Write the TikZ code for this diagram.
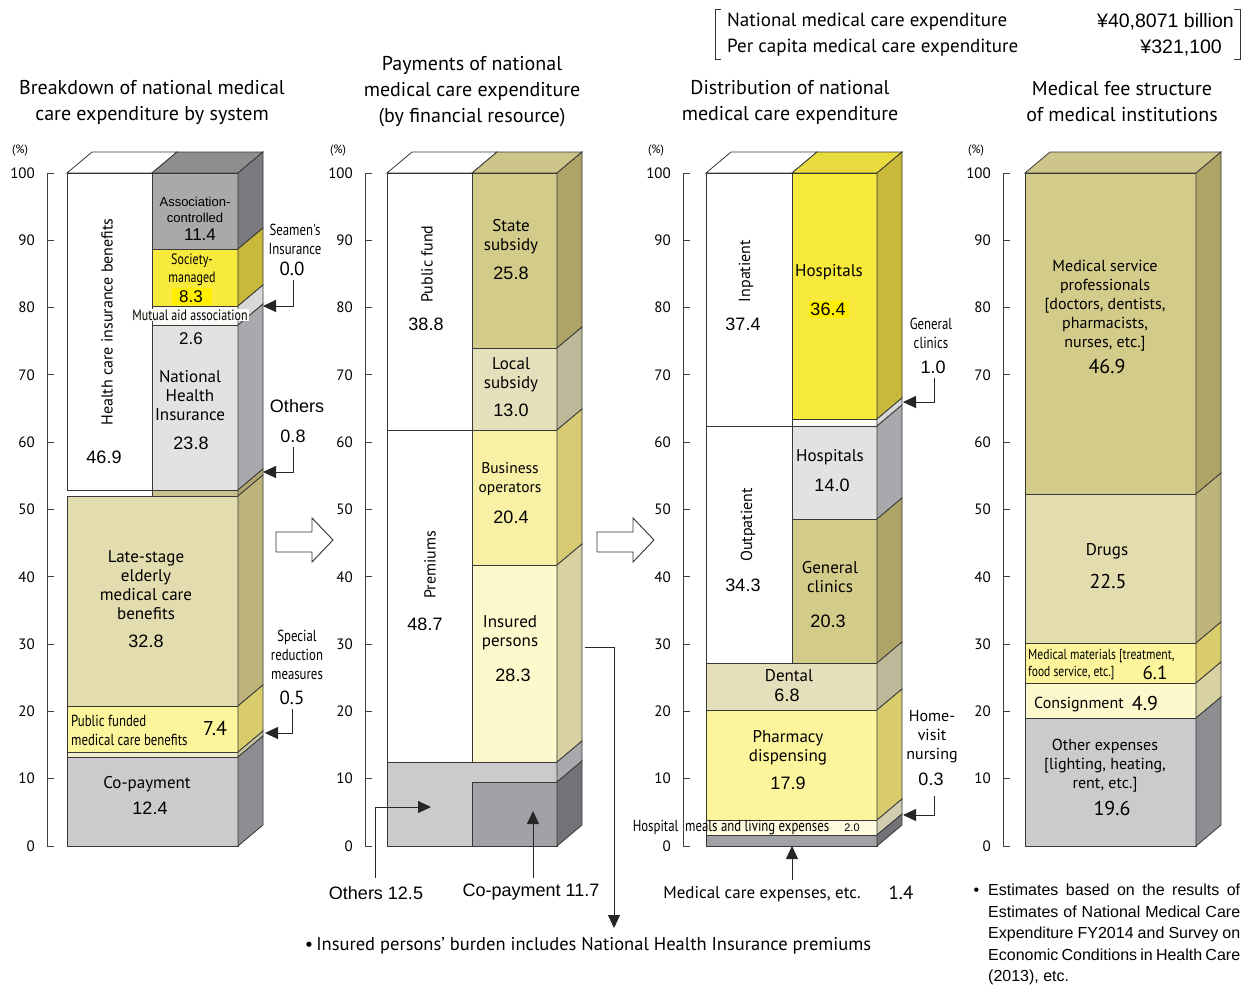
\documentclass[tikz,border=0pt]{standalone}
\usepackage{fontspec}
\setmainfont{PT Sans}
\newfontfamily\arl{Liberation Sans}
\newfontfamily\nrw[FakeStretch=0.8]{PT Sans}
\usetikzlibrary{arrows.meta}

% colours of the bar segments (front / side)
\definecolor{gA}{HTML}{A9A9AB}\definecolor{gAs}{HTML}{7B7B7F}
\definecolor{yB}{HTML}{F7EA3C}\definecolor{yBs}{HTML}{C8B93A}
\definecolor{wW}{HTML}{FBFBF8}\definecolor{wWs}{HTML}{D8D8D8}
\definecolor{gL}{HTML}{E3E2E2}\definecolor{gLs}{HTML}{A9A9AD}
\definecolor{tO}{HTML}{C9C28C}\definecolor{tOs}{HTML}{B0A870}
\definecolor{bE}{HTML}{E2DCAE}\definecolor{bEs}{HTML}{BDB47C}
\definecolor{yP}{HTML}{FDF59C}\definecolor{yPs}{HTML}{D9CC6C}
\definecolor{cS}{HTML}{F0ECCC}\definecolor{cSs}{HTML}{C8C4A0}
\definecolor{gC}{HTML}{CBCBCD}\definecolor{gCs}{HTML}{8E8E92}
\definecolor{oS}{HTML}{D3CB8A}\definecolor{oSs}{HTML}{AEA466}
\definecolor{bL}{HTML}{E5E0BB}\definecolor{bLs}{HTML}{BDB89A}
\definecolor{yO}{HTML}{F8F0A4}\definecolor{yOs}{HTML}{D6CB72}
\definecolor{yI}{HTML}{FDF9CC}\definecolor{yIs}{HTML}{D8D2A2}
\definecolor{gD}{HTML}{A2A2A6}\definecolor{gDs}{HTML}{737377}
\definecolor{yM}{HTML}{FFFBE0}\definecolor{yMs}{HTML}{D0CCB0}
\definecolor{hiY}{HTML}{FFEE00}
\definecolor{topG}{HTML}{8E8E90}
\definecolor{topO}{HTML}{CDC58A}
\definecolor{topY}{HTML}{E9DC3E}

\tikzset{
  edge/.style={draw=black!78, line width=0.8pt},
  lab/.style={inner sep=0pt, align=center, font=\fontsize{17}{19}\selectfont},
  labs/.style={inner sep=0pt, align=center, font=\fontsize{16}{19}\selectfont},
  big/.style={inner sep=0pt, font=\fontsize{20}{22}\selectfont},
  num/.style={inner sep=0pt, font=\arl\fontsize{18}{20}\selectfont},
  nar/.style={inner sep=0pt, align=center, font=\nrw\fontsize{16}{19}\selectfont},
  title/.style={inner sep=0pt, align=center, font=\fontsize{20}{26}\selectfont},
  tick/.style={inner sep=0pt, anchor=east, font=\fontsize{15}{16}\selectfont},
  hilite/.style={fill=hiY, inner sep=0pt, minimum width=40pt, minimum height=17pt},
  callout/.style={draw=black!85, line width=0.9pt, -{Triangle[length=13pt,width=12pt]}},
  bigarrow/.style={draw=black!80, fill=white, line width=0.9pt},
  axisline/.style={draw=black!75, line width=0.9pt},
}

% front face: x1, x2, y1, y2, colour
\newcommand\frontface[5]{\filldraw[fill=#5, edge] (#1,#3) rectangle (#2,#4);}
% side face: front right edge x, y1, y2, colour
\newcommand\sideface[4]{\filldraw[fill=#4, edge] (#1,#2) -- (#1+25,#2-21) -- (#1+25,#3-21) -- (#1,#3) -- cycle;}
% top face: x1, x2, colour
\newcommand\topface[3]{\filldraw[fill=#3, edge] (#1,173) -- (#2,173) -- (#2+25,152) -- (#1+25,152) -- cycle;}
% vertical percentage axis at x
\newcommand\pctaxis[2]{%
  \draw[axisline] (#1,173) -- (#1,846);
  \foreach \v in {0,10,...,100}{
    \draw[axisline] (#1,846-6.73*\v) -- ++(7,0);
    \node[tick] (#2t\v) at (#1-12,846-6.73*\v) {\v};
  }
  \node[inner sep=0pt, font=\fontsize{12}{13}\selectfont] (#2pc) at (#1-27,151) {(\%)};
}

\begin{document}
\begin{tikzpicture}[x=1pt, y=-1pt]
\useasboundingbox (0,0) rectangle (1245,989);
\fill[white] (0,0) rectangle (1245,989);

% ---------- header box ----------
\draw[black!80, line width=0.8pt] (721,9) -- (715,9) -- (715,59) -- (721,59);
\draw[black!80, line width=0.8pt] (1234,9) -- (1240,9) -- (1240,59) -- (1234,59);
\node[inner sep=0pt, anchor=west, font=\fontsize{19}{20}\selectfont] (hd1) at (727,22) {National medical care expenditure};
\node[inner sep=0pt, anchor=west, font=\fontsize{19}{20}\selectfont] (hd2) at (727,48) {Per capita medical care expenditure};
\node[inner sep=0pt, anchor=east, font=\arl\fontsize{19.5}{20}\selectfont] (hv1) at (1234,22) {¥40,8071 billion};
\node[inner sep=0pt, anchor=east, font=\arl\fontsize{19.5}{20}\selectfont] (hv2) at (1222,48) {¥321,100};

% ---------- titles ----------
\node[title] (ti1) at (152,102) {Breakdown of national medical\\care expenditure by system};
\node[title] (ti2) at (472,92) {Payments of national\\medical care expenditure\\(by financial resource)};
\node[title] (ti3) at (790,102) {Distribution of national\\medical care expenditure};
\node[title] (ti4) at (1122,102) {Medical fee structure\\of medical institutions};

% ---------- axes ----------
\pctaxis{47}{a}
\pctaxis{365}{b}
\pctaxis{683}{c}
\pctaxis{1003}{d}

% ---------- bar 1: breakdown by system ----------
\topface{67}{152}{white}
\topface{152}{238}{topG}
\frontface{67}{152}{173}{490}{white}
\frontface{152}{238}{173}{249}{gA}   \sideface{238}{173}{249}{gAs}
\frontface{152}{238}{249}{306}{yB}   \sideface{238}{249}{306}{yBs}
\frontface{152}{238}{306}{325}{wW}   \sideface{238}{306}{325}{wWs}
\frontface{152}{238}{325}{490}{gL}   \sideface{238}{325}{490}{gLs}
\frontface{152}{238}{490}{496}{tO}   \sideface{238}{490}{496}{tOs}
\frontface{67}{238}{496}{706}{bE}    \sideface{238}{496}{706}{bEs}
\frontface{67}{238}{706}{752}{yP}    \sideface{238}{706}{752}{yPs}
\frontface{67}{238}{752}{757}{cS}    \sideface{238}{752}{757}{cSs}
\frontface{67}{238}{757}{846}{gC}    \sideface{238}{757}{846}{gCs}

\node[labs, rotate=90] (hci) at (107,322) {Health care insurance benefits};
\node[num] (n469a) at (104,457) {46.9};
\node[inner sep=0pt, align=center, font=\arl\fontsize{13}{16}\selectfont] (assoc) at (195,210) {Association-\\controlled};
\node[num, font=\arl\fontsize{17}{20}\selectfont] (n114) at (200,235) {11.4};
\node[nar, font=\nrw\fontsize{15}{18}\selectfont] (soc) at (192,270) {Society-\\managed};
\node[hilite] (n83bg) at (192,296) {};
\node[num, font=\arl\fontsize{17}{20}\selectfont] (n83) at (191,297) {8.3};
\node[nar, font=\nrw\fontsize{15}{18}\selectfont, fill=wW, inner sep=1pt] (mut) at (190,315) {Mutual aid association};
\node[num, font=\arl\fontsize{17}{20}\selectfont] (n26) at (191,339) {2.6};
\node[lab] (nhi) at (190,396) {National\\Health\\Insurance};
\node[num] (n238) at (191,443) {23.8};
\node[lab] (late) at (146,585) {Late-stage\\elderly\\medical care\\benefits};
\node[num] (n328) at (146,641) {32.8};
\node[nar, align=left, anchor=west] (pubf) at (71,730) {Public funded\\medical care benefits};
\node[big] (n74) at (215,728) {7.4};
\node[lab] (copay) at (147,784) {Co-payment};
\node[num] (n124) at (150,808) {12.4};

% side labels of bar 1
\node[nar] (sea) at (295,239) {Seamen's\\Insurance};
\node[big, font=\fontsize{19}{22}\selectfont] (n00) at (292,269) {0.0};
\node[num] (oth) at (297,406) {Others};
\node[num] (n08) at (293,436) {0.8};
\node[nar] (spec) at (297,655) {Special\\reduction\\measures};
\node[big, font=\fontsize{19}{22}\selectfont] (n05) at (292,698) {0.5};
\coordinate (tipSea) at (263,306);
\coordinate (tipOth) at (263,472);
\coordinate (tipSpec) at (265,733);
\draw[callout] (n00.south) ++(1,4) |- (tipSea);
\draw[callout] (n08.south) ++(0,4) |- (tipOth);
\draw[callout] (n05.south) ++(0,4) |- (tipSpec);

% big arrow 1 -> 2
\draw[bigarrow] (276,532) -- (312,532) -- (312,518) -- (333,540) -- (312,562) -- (312,552) -- (276,552) -- cycle;

% ---------- bar 2: financial resource ----------
\topface{387}{472}{white}
\topface{472}{557}{topO}
\frontface{387}{472}{173}{430}{white}
\frontface{387}{472}{430}{762}{white}
\frontface{472}{557}{173}{348}{oS}   \sideface{557}{173}{348}{oSs}
\frontface{472}{557}{348}{430}{bL}   \sideface{557}{348}{430}{bLs}
\frontface{472}{557}{430}{565}{yO}   \sideface{557}{430}{565}{yOs}
\frontface{472}{557}{565}{762}{yI}   \sideface{557}{565}{762}{yIs}
\filldraw[fill=gC, edge] (387,762) -- (557,762) -- (557,782) -- (472,782) -- (472,846) -- (387,846) -- cycle;
\sideface{557}{762}{782}{gLs}
\frontface{472}{557}{782}{846}{gD}   \sideface{557}{782}{846}{gDs}

\node[labs, rotate=90] (pubfund) at (427,264) {Public fund};
\node[num] (n388) at (426,324) {38.8};
\node[lab] (state) at (511,237) {State\\subsidy};
\node[num] (n258) at (511,273) {25.8};
\node[lab] (local) at (511,375) {Local\\subsidy};
\node[num] (n130) at (511,410) {13.0};
\node[labs, font=\fontsize{15.5}{19}\selectfont] (busi) at (510,479) {Business\\operators};
\node[num] (n204) at (511,517) {20.4};
\node[labs, rotate=90] (prem) at (430,565) {Premiums};
\node[num] (n487) at (425,624) {48.7};
\node[lab] (insp) at (510,633) {Insured\\persons};
\node[num] (n283) at (513,675) {28.3};

\node[num] (oth125) at (376,893) {Others 12.5};
\node[num] (cop117) at (531,892) {Co-payment 11.7};
\coordinate (othBase) at (375,878);
\coordinate (othTip) at (431,807);
\coordinate (copBase) at (533,878);
\coordinate (copTip) at (533,811);
\draw[callout] (othBase) |- (othTip);
\draw[callout] (copBase) -- (copTip);
\coordinate (insStart) at (585,647);
\coordinate (insTip) at (614,928);
\draw[callout] (insStart) -| (insTip);
\node[inner sep=0pt, font=\fontsize{18.5}{20}\selectfont] (note) at (588,946) {\textbullet\,Insured persons' burden includes National Health Insurance premiums};

% big arrow 2 -> 3
\draw[bigarrow] (597,532) -- (633,532) -- (633,518) -- (654,540) -- (633,562) -- (633,552) -- (597,552) -- cycle;

% ---------- bar 3: distribution ----------
\topface{706}{792}{white}
\topface{792}{877}{topY}
\frontface{706}{792}{173}{426}{white}
\frontface{706}{792}{426}{663}{white}
\frontface{792}{877}{173}{419}{yB}   \sideface{877}{173}{419}{yBs}
\frontface{792}{877}{419}{426}{wW}   \sideface{877}{419}{426}{wWs}
\frontface{792}{877}{426}{519}{gL}   \sideface{877}{426}{519}{gLs}
\frontface{792}{877}{519}{663}{oS}   \sideface{877}{519}{663}{oSs}
\frontface{706}{877}{663}{710}{bL}   \sideface{877}{663}{710}{bLs}
\frontface{706}{877}{710}{820}{yP}   \sideface{877}{710}{820}{yPs}
\frontface{706}{877}{820}{835}{yM}   \sideface{877}{820}{835}{yMs}
\frontface{706}{877}{835}{846}{gD}   \sideface{877}{835}{846}{gDs}

\node[labs, rotate=90] (inpat) at (746,271) {Inpatient};
\node[num] (n374) at (743,324) {37.4};
\node[lab] (hosp1) at (829,272) {Hospitals};
\node[hilite] (n364bg) at (829,309) {};
\node[num] (n364) at (828,309) {36.4};
\node[lab] (hosp2) at (830,457) {Hospitals};
\node[num] (n140) at (832,485) {14.0};
\node[labs, rotate=90] (outpat) at (748,525) {Outpatient};
\node[num] (n343) at (743,585) {34.3};
\node[lab] (genc) at (830,577) {General\\clinics};
\node[num] (n203) at (828,621) {20.3};
\node[lab] (dent) at (789,676) {Dental};
\node[num] (n68) at (787,695) {6.8};
\node[lab] (pharm) at (788,748) {Pharmacy\\dispensing};
\node[num] (n179) at (788,783) {17.9};
\node[nar, font=\nrw\fontsize{16}{17}\selectfont] (meals) at (731,828) {Hospital\ \ meals and living expenses};
\node[inner sep=0pt, font=\arl\fontsize{11}{12}\selectfont] (n20) at (852,828) {2.0};

\node[nar] (genc2) at (931,333) {General\\clinics};
\node[num] (n10) at (933,367) {1.0};
\node[labs] (home) at (932,737) {Home-\\visit\\nursing};
\node[num] (n03) at (931,779) {0.3};
\node[lab] (mce) at (762,894) {Medical care expenses, etc.};
\node[big, font=\fontsize{19}{22}\selectfont] (n14) at (901,893) {1.4};
\coordinate (tipGen) at (903,402);
\coordinate (tipHome) at (903,815);
\draw[callout] (n10.south) ++(1,4) |- (tipGen);
\draw[callout] (n03.south) ++(3,10) |- (tipHome);
\coordinate (mceBase) at (792,880);
\coordinate (mceTip) at (792,846);
\draw[callout] (mceBase) -- (mceTip);

% ---------- bar 4: medical fee structure ----------
\topface{1025}{1196}{topO}
\frontface{1025}{1196}{173}{494}{oS}   \sideface{1196}{173}{494}{oSs}
\frontface{1025}{1196}{494}{643}{bE}   \sideface{1196}{494}{643}{bEs}
\frontface{1025}{1196}{643}{683}{yP}   \sideface{1196}{643}{683}{yPs}
\frontface{1025}{1196}{683}{718}{yI}   \sideface{1196}{683}{718}{yIs}
\frontface{1025}{1196}{718}{846}{gC}   \sideface{1196}{718}{846}{gCs}

\node[labs] (msp) at (1105,306) {Medical service\\professionals\\{[}doctors, dentists,\\pharmacists,\\nurses, etc.]};
\node[big] (n469d) at (1107,366) {46.9};
\node[lab] (drugs) at (1107,551) {Drugs};
\node[big] (n225) at (1108,581) {22.5};
\node[nar, align=left, anchor=west, font=\nrw\fontsize{14.5}{17}\selectfont] (mmat) at (1028,665) {Medical materials [treatment,\\food service, etc.]};
\node[big, font=\fontsize{19}{22}\selectfont] (n61) at (1155,673) {6.1};
\node[labs, anchor=west] (cons) at (1034,704) {Consignment};
\node[big] (n49) at (1145,703) {4.9};
\node[labs] (othx) at (1105,766) {Other expenses\\{[}lighting, heating,\\rent, etc.]};
\node[big] (n196) at (1112,808) {19.6};

\node[inner sep=0pt, anchor=north west, text width=252pt, align=justify,
      font=\arl\fontsize{16}{21.5}\selectfont] (src) at (988,884)
  {\llap{\textbullet\ \ }Estimates based on the results of Estimates of National Medical Care Expenditure FY2014 and Survey on Economic Conditions in Health Care (2013), etc.};

\end{tikzpicture}
\end{document}
